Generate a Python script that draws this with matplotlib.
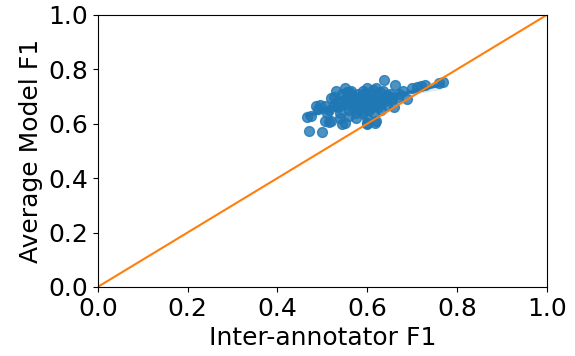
import numpy as np
import pandas as pd
import matplotlib
matplotlib.use("Agg")
import matplotlib.pyplot as plt
import seaborn as sns

# inter-annotator F1 vs average model F1
inter_f1 = [0.465, 0.475, 0.470, 0.500, 0.485, 0.495, 0.490, 0.505, 0.510, 0.505,
            0.515, 0.520, 0.520, 0.525, 0.530, 0.535, 0.535, 0.540, 0.540, 0.545,
            0.545, 0.550, 0.555, 0.555, 0.560, 0.560, 0.565, 0.565, 0.570, 0.570,
            0.575, 0.575, 0.580, 0.580, 0.585, 0.585, 0.590, 0.590, 0.595, 0.595,
            0.600, 0.600, 0.600, 0.600, 0.605, 0.610, 0.610, 0.615, 0.615, 0.620,
            0.620, 0.620, 0.625, 0.630, 0.630, 0.635, 0.637, 0.640, 0.645, 0.650,
            0.655, 0.660, 0.661, 0.670, 0.680, 0.688, 0.700, 0.710, 0.720, 0.728,
            0.760, 0.768, 0.550, 0.530, 0.560, 0.580, 0.600, 0.610, 0.590, 0.570,
            0.617, 0.599, 0.550, 0.625, 0.635, 0.645, 0.605, 0.585, 0.565, 0.545,
            0.525, 0.515, 0.628, 0.612, 0.592, 0.652, 0.668, 0.640, 0.575, 0.555]
model_f1 = [0.625, 0.628, 0.572, 0.570, 0.665, 0.670, 0.655, 0.665, 0.640, 0.610,
            0.605, 0.610, 0.695, 0.700, 0.720, 0.680, 0.660, 0.640, 0.620, 0.600,
            0.710, 0.730, 0.700, 0.670, 0.650, 0.630, 0.690, 0.720, 0.700, 0.660,
            0.640, 0.620, 0.710, 0.680, 0.660, 0.700, 0.720, 0.640, 0.680, 0.660,
            0.700, 0.730, 0.620, 0.600, 0.680, 0.660, 0.710, 0.690, 0.640, 0.610,
            0.670, 0.730, 0.700, 0.680, 0.650, 0.720, 0.761, 0.700, 0.670, 0.710,
            0.690, 0.660, 0.743, 0.710, 0.720, 0.690, 0.730, 0.735, 0.740, 0.743,
            0.750, 0.754, 0.690, 0.665, 0.715, 0.690, 0.665, 0.690, 0.700, 0.680,
            0.603, 0.603, 0.603, 0.660, 0.690, 0.705, 0.650, 0.650, 0.675, 0.685,
            0.670, 0.650, 0.715, 0.725, 0.710, 0.700, 0.700, 0.685, 0.695, 0.715]

df = pd.DataFrame({"inter": inter_f1, "model": model_f1})

fig = plt.figure(figsize=(5.75, 3.56), dpi=100)
ax = fig.add_axes([0.170, 0.194, 0.781, 0.764])
sns.regplot(x="inter", y="model", data=df, ax=ax, scatter_kws={"s": 50})
ax.plot([0, 1], [0, 1], color="C1")
ax.set_xlim(0, 1)
ax.set_ylim(0, 1)
ax.set_xlabel("Inter-annotator F1", fontsize=18)
ax.set_ylabel("Average Model F1", fontsize=18)
ax.tick_params(labelsize=18)
fig.savefig("out.png")
